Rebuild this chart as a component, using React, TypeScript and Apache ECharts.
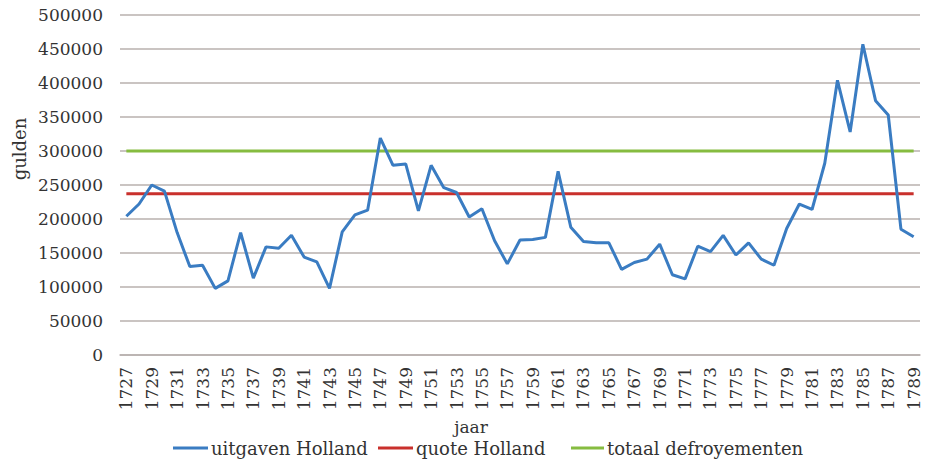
import React, { useEffect, useRef } from "react";
import * as echarts from "echarts";

const years: string[] = [
  "1727", "1728", "1729", "1730", "1731", "1732", "1733", "1734", "1735", "1736",
  "1737", "1738", "1739", "1740", "1741", "1742", "1743", "1744", "1745", "1746",
  "1747", "1748", "1749", "1750", "1751", "1752", "1753", "1754", "1755", "1756",
  "1757", "1758", "1759", "1760", "1761", "1762", "1763", "1764", "1765", "1766",
  "1767", "1768", "1769", "1770", "1771", "1772", "1773", "1774", "1775", "1776",
  "1777", "1778", "1779", "1780", "1781", "1782", "1783", "1784", "1785", "1786",
  "1787", "1788", "1789",
];

const uitgavenHolland: number[] = [
  204000, 222000, 250000, 241000, 180000, 130000, 132000, 98000, 109000, 180000,
  113000, 159000, 157000, 176000, 144000, 137000, 98000, 181000, 206000, 213000,
  319000, 279000, 281000, 212000, 279000, 246000, 239000, 203000, 215000, 168000,
  134000, 169000, 170000, 173000, 270000, 188000, 167000, 165000, 165000, 126000,
  136000, 141000, 163000, 118000, 112000, 160000, 152000, 176000, 147000, 165000,
  141000, 132000, 186000, 222000, 214000, 282000, 404000, 328000, 457000, 374000,
  353000, 185000, 174000,
];

const quoteHollandValue = 237000;
const totaalDefroyementenValue = 300000;

const quoteHolland: number[] = years.map(() => quoteHollandValue);
const totaalDefroyementen: number[] = years.map(() => totaalDefroyementenValue);

const seriesNames = ["uitgaven Holland", "quote Holland", "totaal defroyementen"];
const colors = ["#3a7cc2", "#c9302c", "#86bc40"];

const FONT = "DejaVu Serif";
const TEXT = "#333333";

export default function App() {
  const ref = useRef<HTMLDivElement>(null);

  useEffect(() => {
    if (!ref.current) return;
    const chart = echarts.init(ref.current, null, { renderer: "svg" });
    const legendBase = {
      icon: "rect",
      itemWidth: 35,
      itemHeight: 3,
      top: 439,
      padding: 0,
      itemGap: 3,
      textStyle: {
        fontFamily: FONT,
        fontSize: 18,
        color: TEXT,
        padding: [0, 0, 0, -2],
      },
    };
    chart.setOption({
      animation: false,
      backgroundColor: "#ffffff",
      textStyle: { fontFamily: FONT },
      grid: { left: 120, right: 14, top: 15, bottom: 110, containLabel: false },
      legend: [
        { ...legendBase, left: 173, data: [seriesNames[0]] },
        { ...legendBase, left: 378, data: [seriesNames[1]] },
        { ...legendBase, left: 571, itemWidth: 33, data: [seriesNames[2]] },
      ],
      xAxis: {
        type: "category",
        data: years,
        boundaryGap: true,
        axisLine: { show: true, lineStyle: { color: "#b8b0ae", width: 1.5 } },
        axisTick: { show: false },
        axisLabel: {
          interval: 1,
          rotate: 90,
          margin: 12,
          fontFamily: FONT,
          fontSize: 17,
          color: TEXT,
        },
        splitLine: { show: false },
      },
      yAxis: {
        type: "value",
        min: 0,
        max: 500000,
        interval: 50000,
        axisLine: { show: false },
        axisTick: { show: false },
        axisLabel: {
          margin: 17,
          fontFamily: FONT,
          fontSize: 17,
          color: TEXT,
          formatter: (v: number) => String(v),
        },
        splitLine: { show: true, lineStyle: { color: "#b8b0ae", width: 1.5 } },
      },
      graphic: [
        {
          type: "text",
          x: 471,
          y: 427,
          style: {
            text: "jaar",
            font: `17px ${FONT}`,
            fill: TEXT,
            textAlign: "center",
            textVerticalAlign: "middle",
          },
        },
        {
          type: "text",
          x: 19,
          y: 149,
          rotation: Math.PI / 2,
          style: {
            text: "gulden",
            font: `18px ${FONT}`,
            fill: TEXT,
            textAlign: "center",
            textVerticalAlign: "middle",
          },
        },
      ],
      series: [
        {
          name: seriesNames[0],
          type: "line",
          data: uitgavenHolland,
          symbol: "none",
          lineStyle: { color: colors[0], width: 3 },
          itemStyle: { color: colors[0] },
          z: 4,
        },
        {
          name: seriesNames[1],
          type: "line",
          data: quoteHolland,
          symbol: "none",
          lineStyle: { color: colors[1], width: 3 },
          itemStyle: { color: colors[1] },
          z: 3,
        },
        {
          name: seriesNames[2],
          type: "line",
          data: totaalDefroyementen,
          symbol: "none",
          lineStyle: { color: colors[2], width: 3 },
          itemStyle: { color: colors[2] },
          z: 2,
        },
      ],
    });
    return () => chart.dispose();
  }, []);

  return (
    <div
      ref={ref}
      style={{ position: "fixed", left: 0, top: 0, width: 934, height: 465, background: "#fff" }}
    />
  );
}
